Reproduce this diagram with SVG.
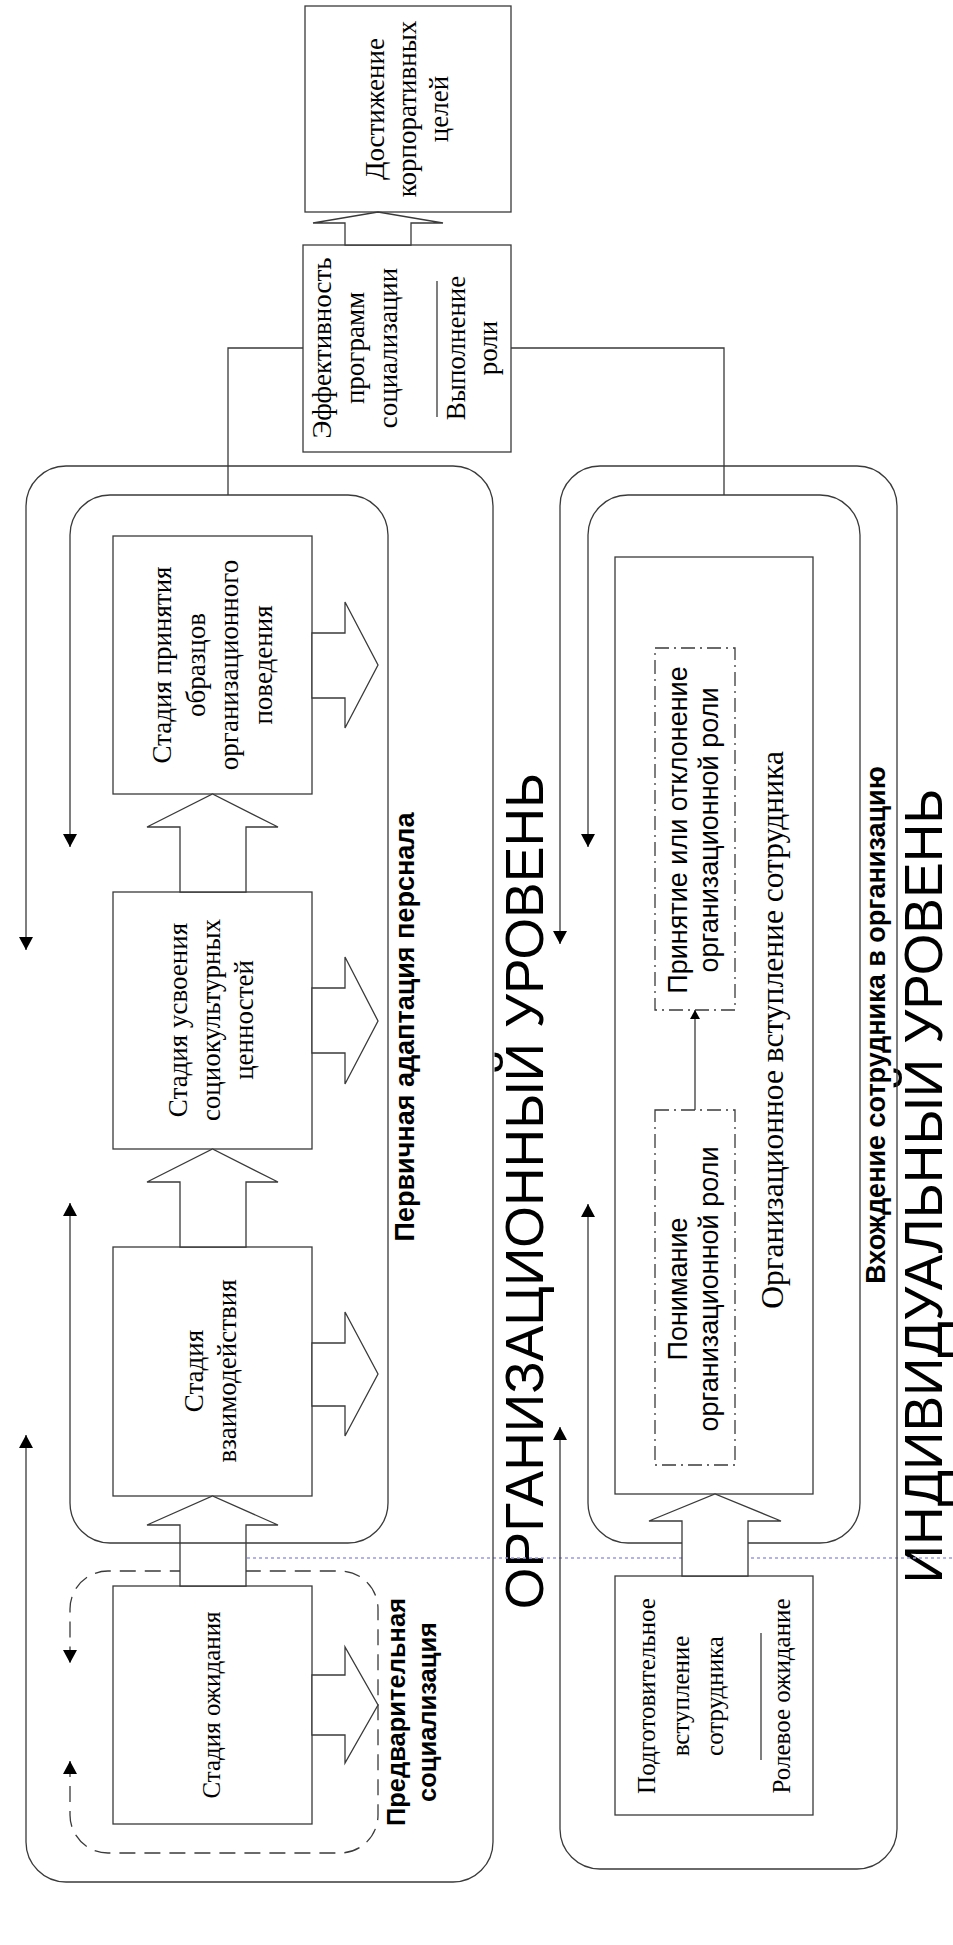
<svg xmlns="http://www.w3.org/2000/svg" width="953" height="1945" viewBox="0 0 953 1945">
<defs>
<style>
.box{fill:#fff;stroke:#3a3a3a;stroke-width:1.3}
.dd{fill:#fff;stroke:#3a3a3a;stroke-width:1.3;stroke-dasharray:14 5 2 5}
.ln{fill:none;stroke:#3a3a3a;stroke-width:1.3}
.loop{fill:none;stroke:#3a3a3a;stroke-width:1.3;marker-start:url(#ah);marker-end:url(#ah)}
.harrow{fill:#fff;stroke:#3a3a3a;stroke-width:1.3;stroke-linejoin:miter}
.ser{font-family:"Liberation Serif","Times New Roman",serif;font-size:27px;fill:#000;text-anchor:middle}
.san{font-family:"Liberation Sans",Arial,sans-serif;font-size:27px;fill:#000;text-anchor:middle}
.bold{font-weight:bold}
.big{font-family:"Liberation Sans",Arial,sans-serif;font-size:53.5px;fill:#000;text-anchor:middle}
</style>
<marker id="ah" viewBox="0 0 13 14" refX="13" refY="7" markerWidth="13" markerHeight="14" markerUnits="userSpaceOnUse" orient="auto-start-reverse"><path d="M0,0 L13,7 L0,14 z" fill="#000"/></marker>
<marker id="ahs" viewBox="0 0 9 10" refX="9" refY="5" markerWidth="9" markerHeight="10" markerUnits="userSpaceOnUse" orient="auto"><path d="M0,0 L9,5 L0,10 z" fill="#000"/></marker>
</defs>
<rect width="953" height="1945" fill="#fff"/>

<g id="goals">
<rect class="box" x="305" y="6" width="206" height="206"/>
<text class="ser" transform="translate(384,109) rotate(-90)">Достижение</text>
<text class="ser" transform="translate(416,109) rotate(-90)">корпоративных</text>
<text class="ser" transform="translate(448,109) rotate(-90)">целей</text>
</g>

<g id="efficiency">
<rect class="box" x="303" y="245" width="208" height="207"/>
<text class="ser" transform="translate(331,348) rotate(-90)">Эффективность</text>
<text class="ser" transform="translate(364,348) rotate(-90)">программ</text>
<text class="ser" transform="translate(397,348) rotate(-90)">социализации</text>
<line class="ln" x1="437" y1="281" x2="437" y2="417"/>
<text class="ser" transform="translate(465,348) rotate(-90)">Выполнение</text>
<text class="ser" transform="translate(497,348) rotate(-90)">роли</text>
</g>

<g id="stage-acceptance">
<rect class="box" x="113" y="536" width="199" height="258"/>
<text class="ser" transform="translate(171,665) rotate(-90)">Стадия принятия</text>
<text class="ser" transform="translate(204.5,665) rotate(-90)">образцов</text>
<text class="ser" transform="translate(238,665) rotate(-90)">организационного</text>
<text class="ser" transform="translate(271.5,665) rotate(-90)">поведения</text>
</g>

<g id="stage-values">
<rect class="box" x="113" y="892" width="199" height="257"/>
<text class="ser" transform="translate(187,1020) rotate(-90)">Стадия усвоения</text>
<text class="ser" transform="translate(220,1020) rotate(-90)">социокультурных</text>
<text class="ser" transform="translate(253,1020) rotate(-90)">ценностей</text>
</g>

<g id="stage-interaction">
<rect class="box" x="113" y="1247" width="199" height="249"/>
<text class="ser" transform="translate(203,1371) rotate(-90)">Стадия</text>
<text class="ser" transform="translate(236,1371) rotate(-90)">взаимодействия</text>
</g>

<g id="stage-expectation">
<rect class="box" x="113" y="1586" width="199" height="238"/>
<text class="ser" style="font-size:25px" transform="translate(220,1705) rotate(-90)">Стадия ожидания</text>
</g>

<g id="label-primary">
<text class="san bold" transform="translate(414,1027) rotate(-90)">Первичная адаптация перснала</text>
</g>
<g id="label-presocial">
<text class="san bold" style="font-size:25.5px" transform="translate(405,1712) rotate(-90)">Предварительная</text>
<text class="san bold" style="font-size:25.5px" transform="translate(436,1712) rotate(-90)">социализация</text>
</g>
<g id="label-org-level">
<text class="big" transform="translate(543,1191) rotate(-90)">ОРГАНИЗАЦИОННЫЙ УРОВЕНЬ</text>
</g>

<g id="org-entry">
<rect class="box" x="615" y="557" width="198" height="937"/>
<text class="ser" style="font-size:31.5px" transform="translate(783,1030) rotate(-90)">Организационное вступление сотрудника</text>
</g>
<g id="role-acceptance">
<rect class="dd" x="655" y="648" width="80" height="362"/>
<text class="san" transform="translate(687,830) rotate(-90)">Принятие или отклонение</text>
<text class="san" transform="translate(718,830) rotate(-90)">организационной роли</text>
</g>
<g id="role-understanding">
<rect class="dd" x="655" y="1110" width="80" height="355"/>
<text class="san" transform="translate(687,1289) rotate(-90)">Понимание</text>
<text class="san" transform="translate(718,1289) rotate(-90)">организационной роли</text>
</g>
<g id="pre-entry">
<rect class="box" x="615" y="1576" width="198" height="239"/>
<text class="ser" style="font-size:25px" transform="translate(655,1696) rotate(-90)">Подготовительное</text>
<text class="ser" style="font-size:25px" transform="translate(689,1696) rotate(-90)">вступление</text>
<text class="ser" style="font-size:25px" transform="translate(723,1696) rotate(-90)">сотрудника</text>
<line class="ln" x1="761" y1="1633" x2="761" y2="1760"/>
<text class="ser" style="font-size:25px" transform="translate(790,1696) rotate(-90)">Ролевое ожидание</text>
</g>

<g id="label-entry">
<text class="san bold" transform="translate(885,1025) rotate(-90)">Вхождение сотрудника в организацию</text>
</g>
<g id="label-ind-level">
<text class="big" transform="translate(942,1186) rotate(-90)">ИНДИВИДУАЛЬНЫЙ УРОВЕНЬ</text>
</g>

<g id="connectors">
<path d="M247,1558 H953" fill="none" stroke="#9a9ae6" stroke-width="1.5" stroke-dasharray="3 3"/>
<path class="ln" d="M303,348 H228 V495"/>
<path class="ln" d="M511,348 H724 V495"/>
<path class="loop" style="stroke-dasharray:16 9" d="M70,1761 V1815 A38,38 0 0 0 108,1853 H340 A38,38 0 0 0 378,1815 V1609 A38,38 0 0 0 340,1571 H108 A38,38 0 0 0 70,1609 V1663"/>
<path class="loop" d="M588,1204 V1503 A40,40 0 0 0 628,1543 H820 A40,40 0 0 0 860,1503 V535 A40,40 0 0 0 820,495 H628 A40,40 0 0 0 588,535 V847"/>
<path class="loop" d="M560,1427 V1829 A40,40 0 0 0 600,1869 H857 A40,40 0 0 0 897,1829 V506 A40,40 0 0 0 857,466 H600 A40,40 0 0 0 560,506 V944"/>
<polygon class="harrow" points="345,245 345,223 313,223 378,212 443,223 411,223 411,245"/>
<polygon class="harrow" points="180,892 180,827 147,827 212.5,794 278,827 246,827 246,892"/>
<polygon class="harrow" points="180,1247 180,1182 147,1182 212.5,1149 278,1182 246,1182 246,1247"/>
<polygon class="harrow" points="180,1586 180,1525 147,1525 212.5,1496 278,1525 246,1525 246,1586"/>
<polygon class="harrow" points="312,633 345,633 345,602 378,665 345,728 345,698 312,698"/>
<polygon class="harrow" points="312,988 345,988 345,957 378,1021 345,1084 345,1053 312,1053"/>
<polygon class="harrow" points="312,1343 345,1343 345,1312 378,1374 345,1436 345,1406 312,1406"/>
<polygon class="harrow" points="312,1675 345,1675 345,1647 378,1705 345,1763 345,1735 312,1735"/>
<polygon class="harrow" points="682,1576 682,1521 649,1521 715,1494 781,1521 748,1521 748,1576"/>
<path class="loop" d="M70,1203 V1503 A40,40 0 0 0 110,1543 H348 A40,40 0 0 0 388,1503 V535 A40,40 0 0 0 348,495 H110 A40,40 0 0 0 70,535 V847"/>
<path class="loop" d="M26,1435 V1842 A40,40 0 0 0 66,1882 H453 A40,40 0 0 0 493,1842 V506 A40,40 0 0 0 453,466 H66 A40,40 0 0 0 26,506 V950"/>
<path class="ln" d="M695,1110 V1010" marker-end="url(#ahs)"/>
</g>
</svg>
